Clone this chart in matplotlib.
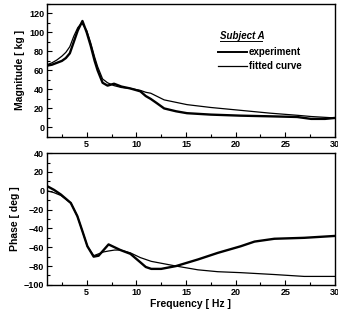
import matplotlib
matplotlib.use('Agg')
import matplotlib.pyplot as plt
from matplotlib.lines import Line2D
from matplotlib.ticker import MultipleLocator

plt.rcParams['font.family'] = ['Liberation Sans', 'DejaVu Sans']

# magnitude, experiment (thick)
mag_exp_f = [1.0, 1.5, 2.0, 2.5, 2.9, 3.3, 3.7, 4.1, 4.57, 5.0, 5.4, 5.8, 6.1, 6.6, 7.1, 7.75, 8.5, 9.4, 10.4, 10.95,
             11.45, 12.0, 12.8, 14.0, 15.1, 17.5, 20.5, 23.5, 26.2, 27.6, 29.0, 30.0]
mag_exp = [65, 66, 68, 70, 73, 78, 90, 102, 112, 100, 86, 70, 60, 47, 44, 46, 43, 41, 38, 33,
           30, 26, 20, 17, 15, 13.5, 12.4, 11.7, 11, 9, 9, 10]
# magnitude, fitted curve (thin)
mag_fit_f = [1.0, 1.5, 2.0, 2.5, 2.9, 3.3, 3.7, 4.1, 4.5, 5.0, 5.4, 5.8, 6.1, 6.6, 7.1, 7.75, 8.5, 9.4, 10.4, 10.95,
             11.45, 12.8, 15.1, 17.5, 20.5, 23.5, 26.2, 27.6, 30.0]
mag_fit = [66, 68, 71, 75, 79, 85, 96, 105, 110, 102, 89, 74, 64, 51, 47, 44, 42, 41, 39, 37,
           36, 29, 24, 21, 18, 15, 12.8, 11.5, 10]

# phase, experiment (thick)
ph_exp_f = [1.0, 1.7, 2.4, 3.4, 4.06, 4.57, 5.07, 5.7, 6.2, 6.7, 7.2, 7.8, 8.4, 9.4, 10.4, 10.95, 11.5, 12.5, 14.0,
            16.2, 18.2, 20.5, 21.9, 23.9, 26.9, 30.0]
ph_exp = [5, 1, -4, -13, -27, -43, -59, -70, -69, -63, -57, -60, -63, -67, -76, -81, -83, -83, -80,
          -73, -66, -59, -54, -51, -50, -48]
# phase, fitted curve (thin)
ph_fit_f = [1.0, 1.7, 2.4, 3.4, 4.06, 4.57, 5.07, 5.7, 6.2, 6.7, 7.2, 7.8, 8.4, 9.4, 10.4, 10.95, 11.5, 12.5, 14.0,
            16.2, 18.2, 20.5, 23.9, 26.9, 30.0]
ph_fit = [0, -2, -5, -13, -27, -43, -59, -69, -67, -65, -64, -63, -63, -66, -71, -73, -75, -77, -80,
          -84, -86, -87, -89, -91, -91]

tick_font = {'size': 6.5, 'weight': 'bold'}
label_font = {'size': 7.5, 'weight': 'bold'}

fig = plt.figure(figsize=(3.38, 3.23), dpi=100)
ax1 = fig.add_axes([0.139, 0.576, 0.852, 0.412])
ax2 = fig.add_axes([0.139, 0.118, 0.852, 0.408])

l1, = ax1.plot(mag_exp_f, mag_exp, color='black', lw=1.7)
l2, = ax1.plot(mag_fit_f, mag_fit, color='black', lw=0.9)
ax1.set_ylim(-10, 130)
ax1.set_ylabel('Magnitude [ kg ]', fontdict=label_font, labelpad=3)
ax1.yaxis.set_major_locator(MultipleLocator(20))
ax1.yaxis.set_minor_locator(MultipleLocator(10))

ax2.plot(ph_exp_f, ph_exp, color='black', lw=1.7)
ax2.plot(ph_fit_f, ph_fit, color='black', lw=0.9)
ax2.set_ylim(-100, 40)
ax2.set_ylabel('Phase [ deg ]', fontdict=label_font, labelpad=3)
ax2.set_xlabel('Frequency [ Hz ]', fontdict=label_font, labelpad=2)
ax2.yaxis.set_major_locator(MultipleLocator(20))
ax2.yaxis.set_minor_locator(MultipleLocator(10))

for ax in (ax1, ax2):
    ax.set_xlim(1, 30)
    ax.xaxis.set_major_locator(MultipleLocator(5))
    ax.xaxis.set_minor_locator(MultipleLocator(2.5))
    ax.tick_params(which='both', direction='in', width=0.8, pad=2)
    ax.tick_params(which='major', length=3.5)
    ax.tick_params(which='minor', length=2)
    for lab in ax.get_xticklabels() + ax.get_yticklabels():
        lab.set_fontsize(tick_font['size'])
        lab.set_fontweight(tick_font['weight'])
    for sp in ax.spines.values():
        sp.set_linewidth(1.0)

# legend
ax1.text(0.60, 0.76, 'Subject A', transform=ax1.transAxes, fontsize=7, style='italic',
         weight='bold', va='center')
ax1.add_line(Line2D([0.60, 0.745], [0.72, 0.72], transform=ax1.transAxes, color='black', lw=0.7))
ax1.add_line(Line2D([0.595, 0.695], [0.64, 0.64], transform=ax1.transAxes, color='black', lw=1.4))
ax1.text(0.70, 0.64, 'experiment', transform=ax1.transAxes, fontsize=7, weight='bold', va='center')
ax1.add_line(Line2D([0.595, 0.695], [0.53, 0.53], transform=ax1.transAxes, color='black', lw=0.9))
ax1.text(0.70, 0.53, 'fitted curve', transform=ax1.transAxes, fontsize=7, weight='bold', va='center')

fig.savefig('out.png', dpi=100)
